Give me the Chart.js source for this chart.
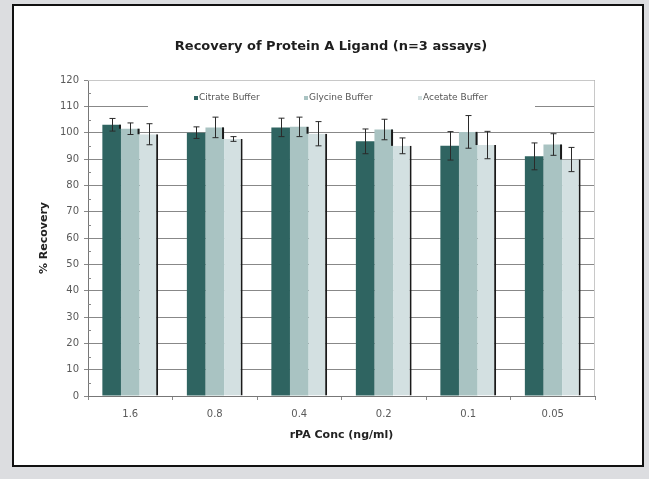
<!DOCTYPE html>
<html>
<head>
<meta charset="utf-8">
<script src="https://cdn.jsdelivr.net/npm/chart.js@4.4.1/dist/chart.umd.min.js"></script>
<style>
  html, body { margin: 0; padding: 0; background: #dcdde0; }
  #frame { position: absolute; left: 12px; top: 4px; width: 632px; height: 463px;
           box-sizing: border-box; border: 2px solid #111; background: #fff; }
  #myChart { position: absolute; left: 0; top: 0; }
</style>
</head>
<body>
<div id="frame"></div>
<canvas id="myChart" width="649" height="479"></canvas>
<script>
// data
const concs = ["1.6", "0.8", "0.4", "0.2", "0.1", "0.05"]
const citrate = [103, 100, 102, 96.7, 95, 91]
const citrateErr = [2.4, 2.2, 3.5, 4.7, 5.4, 5.1]
const glycine = [101.5, 102, 102.2, 101.2, 100.3, 95.5]
const glycineErr = [2.2, 3.9, 3.7, 3.9, 6.2, 4.1]
const acetate = [99.4, 97.6, 99.6, 95, 95.3, 89.8]
const acetateErr = [4, 0.9, 4.6, 3, 5.2, 4.6]
const yTicks = [0, 10, 20, 30, 40, 50, 60, 70, 80, 90, 100, 110, 120]

const colors = ["#2f6461", "#a9c3c2", "#d3e0e1"]
const names = ["Citrate Buffer", "Glycine Buffer", "Acetate Buffer"]
const errs = [citrateErr, glycineErr, acetateErr]
const font = "'DejaVu Sans', Verdana, sans-serif"

// white legend box inside the plot, drawn over the grid
const legendBox = {
    id: "legendBox",
    beforeDatasetsDraw(chart) {
        const ctx = chart.ctx
        const a = chart.chartArea
        ctx.save()
        ctx.fillStyle = "#fff"
        ctx.fillRect(148, a.top + 1, 387, 35)
        ctx.font = "9px " + font
        ctx.textBaseline = "middle"
        const xs = [194, 304, 418]
        names.forEach((n, i) => {
            ctx.fillStyle = colors[i]
            ctx.fillRect(xs[i], 96, 4, 4)
            ctx.fillStyle = "#555"
            ctx.fillText(n, xs[i] + 5, 98)
        })
        ctx.restore()
    }
}

// error bars, little dark right edges, minor ticks, plot border and title
const extras = {
    id: "extras",
    afterDatasetsDraw(chart) {
        const ctx = chart.ctx
        const y = chart.scales.y
        const a = chart.chartArea
        ctx.save()
        // dark right edge where a bar sticks up over its neighbour
        ctx.strokeStyle = "#1a1a1a"
        ctx.lineWidth = 2
        for (let i = 0; i < 2; i++) {
            const bars = chart.getDatasetMeta(i).data
            const next = chart.getDatasetMeta(i + 1).data
            bars.forEach((b, j) => {
                if (b.y < next[j].y) {
                    const xr = b.x + b.width / 2 - 1
                    ctx.beginPath()
                    ctx.moveTo(xr, b.y)
                    ctx.lineTo(xr, next[j].y)
                    ctx.stroke()
                }
            })
        }
        // error bars
        ctx.strokeStyle = "#2a2a2a"
        ctx.lineWidth = 1
        chart.data.datasets.forEach((ds, i) => {
            chart.getDatasetMeta(i).data.forEach((b, j) => {
                const v = ds.data[j], e = errs[i][j]
                const y1 = y.getPixelForValue(v + e)
                const y2 = y.getPixelForValue(v - e)
                const x = Math.round(b.x) + 0.5
                ctx.beginPath()
                ctx.moveTo(x, y1); ctx.lineTo(x, y2)
                ctx.moveTo(x - 3, y1); ctx.lineTo(x + 3, y1)
                ctx.moveTo(x - 3, y2); ctx.lineTo(x + 3, y2)
                ctx.stroke()
            })
        })
        // minor ticks on the y axis
        ctx.strokeStyle = "#888"
        for (let v = 5; v < 120; v += 10) {
            const py = Math.round(y.getPixelForValue(v)) + 0.5
            ctx.beginPath()
            ctx.moveTo(a.left, py); ctx.lineTo(a.left + 3, py)
            ctx.stroke()
        }
        // light border top and right of the plot
        ctx.strokeStyle = "#c8c8c8"
        ctx.beginPath()
        ctx.moveTo(a.left, a.top + 0.5); ctx.lineTo(a.right - 0.5, a.top + 0.5)
        ctx.lineTo(a.right - 0.5, a.bottom)
        ctx.stroke()
        // chart title
        ctx.fillStyle = "#1e1e1e"
        ctx.font = "bold 13px " + font
        ctx.textAlign = "center"
        ctx.textBaseline = "middle"
        ctx.fillText("Recovery of Protein A Ligand (n=3 assays)", 331, 47)
        ctx.restore()
    }
}

const data = {
    labels: concs,
    datasets: [citrate, glycine, acetate].map((d, i) => ({
        label: names[i],
        data: d,
        backgroundColor: colors[i],
        borderColor: "#1a1a1a",
        borderWidth: i == 2 ? { top: 0, left: 0, bottom: 0, right: 2 } : 0,
        categoryPercentage: 0.66,
        barPercentage: 1.0
    }))
}

const config = {
    type: "bar",
    data: data,
    options: {
        responsive: false,
        animation: false,
        layout: { padding: { top: 80, right: 54, left: 0, bottom: 0 } },
        plugins: { legend: { display: false }, tooltip: { enabled: false } },
        scales: {
            x: {
                afterFit: (s) => { s.height = 83 },
                grid: { display: true, drawOnChartArea: false, drawTicks: true, tickLength: 4, color: "#888", offset: true },
                border: { color: "#777", width: 1 },
                ticks: { color: "#5a5a5a", font: { family: font, size: 10 }, padding: 8 },
                title: { display: true, text: "rPA Conc (ng/ml)", color: "#222",
                         font: { family: font, size: 11, weight: "bold" }, padding: { top: 0, bottom: 37 } }
            },
            y: {
                min: 0, max: 120,
                afterFit: (s) => { s.width = 88 },
                afterBuildTicks: (s) => { s.ticks = yTicks.map(v => ({ value: v })) },
                grid: { color: "#888", tickLength: 4, drawTicks: true },
                border: { color: "#777", width: 1 },
                ticks: { color: "#5a5a5a", font: { family: font, size: 10 }, padding: 5 },
                title: { display: true, text: "% Recovery", color: "#222",
                         font: { family: font, size: 11, weight: "bold" }, padding: { top: 38 } }
            }
        }
    },
    plugins: [legendBox, extras]
}

const myChart = new Chart(document.getElementById("myChart"), config)
</script>
</body>
</html>
